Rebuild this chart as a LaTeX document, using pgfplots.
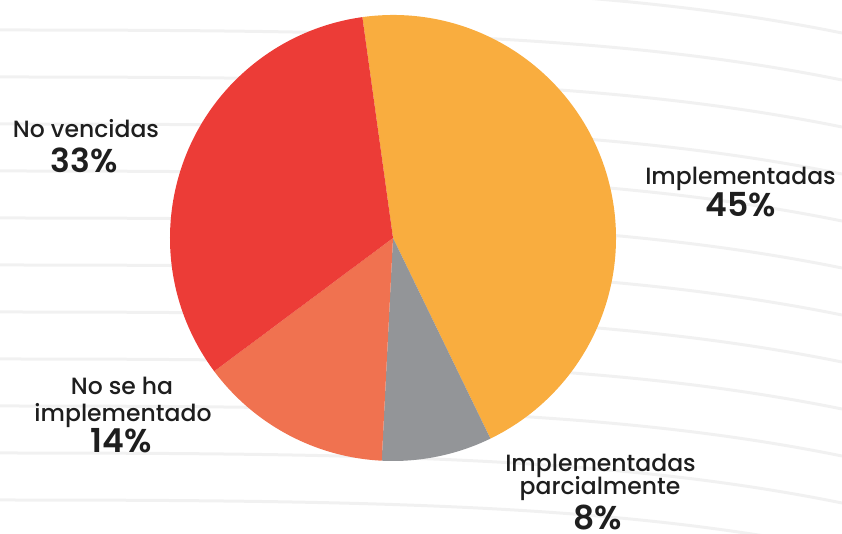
\documentclass[border=0pt]{standalone}
\usepackage{pgfplots}
\pgfplotsset{compat=1.18}
\usepackage{pgfplotstable}
\usepackage{fontspec}
\setmainfont{Poppins}[UprightFont=* Medium, BoldFont=* SemiBold]

\definecolor{cOrange}{HTML}{F9AD3F}
\definecolor{cGray}{HTML}{939598}
\definecolor{cCoral}{HTML}{F07250}
\definecolor{cRed}{HTML}{EC3C37}
\definecolor{txt}{HTML}{1E1E1E}
\definecolor{bgline}{HTML}{F1F1F1}

% share of each group, clockwise from the top
\pgfplotstableread{
value
45
8
14
33
}\piedata

\begin{document}
\begin{tikzpicture}
\useasboundingbox (0,0) rectangle (842pt,534pt);
\begin{scope}
  \clip (0,0) rectangle (842pt,534pt);
  % faint background swooshes
  \foreach \y in {-60,-13,34,81,128,175,222,269,316,363,410,457,504,551} {
    \draw[bgline, line width=3pt] (0pt,\y pt) .. controls (380pt,\y pt) and (620pt,\y pt-5pt) .. (842pt,\y pt-50pt);
  }
\end{scope}
\begin{axis}[
  at={(0,0)}, anchor=origin,
  x=1pt, y=1pt,
  xmin=0, xmax=842, ymin=0, ymax=534,
  hide axis, clip=false,
  scale only axis,
]
  \def\cx{393}\def\cy{296}\def\rr{223}
  \def\cum{97.9}
  \pgfplotsforeachungrouped \i in {0,...,3}{
    \pgfplotstablegetelem{\i}{value}\of\piedata
    \pgfmathsetmacro\endang{\cum-3.6*\pgfplotsretval}
    \pgfmathsetmacro\sx{\cx+\rr*cos(\cum)}
    \pgfmathsetmacro\sy{\cy+\rr*sin(\cum)}
    \ifcase\i \def\col{cOrange}\or \def\col{cGray}\or \def\col{cCoral}\or \def\col{cRed}\fi
    \edef\temp{\noexpand\fill[\col] (axis cs:\cx,\cy) -- (axis cs:\sx,\sy)
      arc[start angle=\cum, end angle=\endang, radius=\rr pt] -- cycle;}
    \temp
    \global\let\cum\endang
  }

  \tikzset{lab/.style={anchor=base, inner sep=0pt, text=txt, font=\fontsize{23.5}{26}\selectfont},
           pct/.style={anchor=base, inner sep=0pt, text=txt, font=\fontsize{33}{36}\selectfont\bfseries}}
  \node[lab] at (axis cs:86,396.7) {No vencidas};
  \node[pct] at (axis cs:84,361.3) {33\%};
  \node[lab] at (axis cs:740.5,349) {Implementadas};
  \node[pct] at (axis cs:741,317.3) {45\%};
  \node[lab] at (axis cs:122,139) {No se ha};
  \node[lab] at (axis cs:123,112.3) {implementado};
  \node[pct] at (axis cs:121,81) {14\%};
  \node[lab] at (axis cs:600.5,62.3) {Implementadas};
  \node[lab] at (axis cs:600,39) {parcialmente};
  \node[pct] at (axis cs:598,4.5) {8\%};
\end{axis}
\end{tikzpicture}
\end{document}
